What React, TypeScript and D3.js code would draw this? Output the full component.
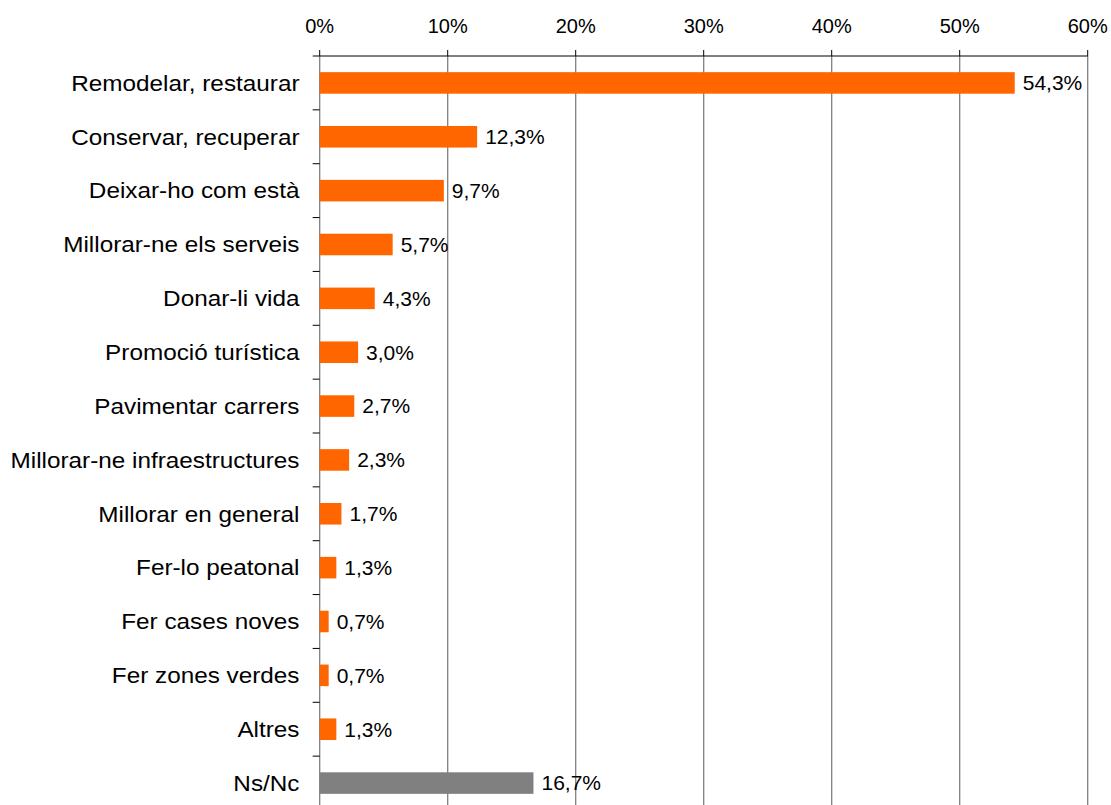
import React from "react";
import * as d3 from "d3";

const categories = [
  "Remodelar, restaurar",
  "Conservar, recuperar",
  "Deixar-ho com està",
  "Millorar-ne els serveis",
  "Donar-li vida",
  "Promoció turística",
  "Pavimentar carrers",
  "Millorar-ne infraestructures",
  "Millorar en general",
  "Fer-lo peatonal",
  "Fer cases noves",
  "Fer zones verdes",
  "Altres",
  "Ns/Nc",
];
const values = [54.3, 12.3, 9.7, 5.7, 4.3, 3.0, 2.7, 2.3, 1.7, 1.3, 0.7, 0.7, 1.3, 16.7];
const barColors = [
  "#FF6600", "#FF6600", "#FF6600", "#FF6600", "#FF6600", "#FF6600", "#FF6600",
  "#FF6600", "#FF6600", "#FF6600", "#FF6600", "#FF6600", "#FF6600", "#808080",
];
const xTicks = [0, 10, 20, 30, 40, 50, 60];

const W = 1111;
const H = 805;
const left = 319.7;
const right = 1087.7;
const top = 56;
const bottom = 810;
const font = "'Liberation Sans', Arial, sans-serif";

export default function App() {
  const x = d3.scaleLinear().domain([0, 60]).range([left, right]);
  const band = d3.scaleBand<string>().domain(categories).range([top, bottom]).paddingInner(0.6).paddingOuter(0.3);
  const rows = d3.scaleBand<string>().domain(categories).range([top, bottom]).padding(0);
  const fmt = (v: number) => v.toFixed(1).replace(".", ",") + "%";
  const boundaries = d3.range(categories.length + 1).map((i) => top + i * rows.step());

  return (
    <svg width={W} height={H} style={{ position: "absolute", left: 0, top: 0, background: "#fff" }} fontFamily={font}>
      <rect x={0} y={0} width={W} height={H} fill="#fff" />
      {xTicks.map((t) => (
        <g key={t}>
          <line x1={x(t)} x2={x(t)} y1={top} y2={bottom} stroke="#808080" strokeWidth={1.3} />
          <line x1={x(t)} x2={x(t)} y1={top - 6} y2={top} stroke="#000" strokeWidth={1} />
          <text x={x(t)} y={32.7} textAnchor="middle" fontSize={20} fill="#000">
            {t + "%"}
          </text>
        </g>
      ))}
      <line x1={left} x2={right} y1={top} y2={top} stroke="#000" strokeWidth={1} />
      {boundaries.map((b, i) => (
        <line key={i} x1={left - 7} x2={left} y1={b} y2={b} stroke="#000" strokeWidth={1} />
      ))}
      {categories.map((c, i) => {
        const y0 = band(c) as number;
        const bh = band.bandwidth();
        const cy = (rows(c) as number) + rows.bandwidth() / 2;
        return (
          <g key={c}>
            <rect x={x(0)} y={y0} width={x(values[i]) - x(0)} height={bh} fill={barColors[i]} />
            <text x={x(values[i]) + 8} y={y0 + bh / 2} dy="0.35em" fontSize={21} fill="#000">
              {fmt(values[i])}
            </text>
            <text
              transform={`translate(299.5, ${cy}) scale(1.09, 1)`}
              dy="0.35em"
              textAnchor="end"
              fontSize={22.3}
              fill="#000"
            >
              {c}
            </text>
          </g>
        );
      })}
    </svg>
  );
}
